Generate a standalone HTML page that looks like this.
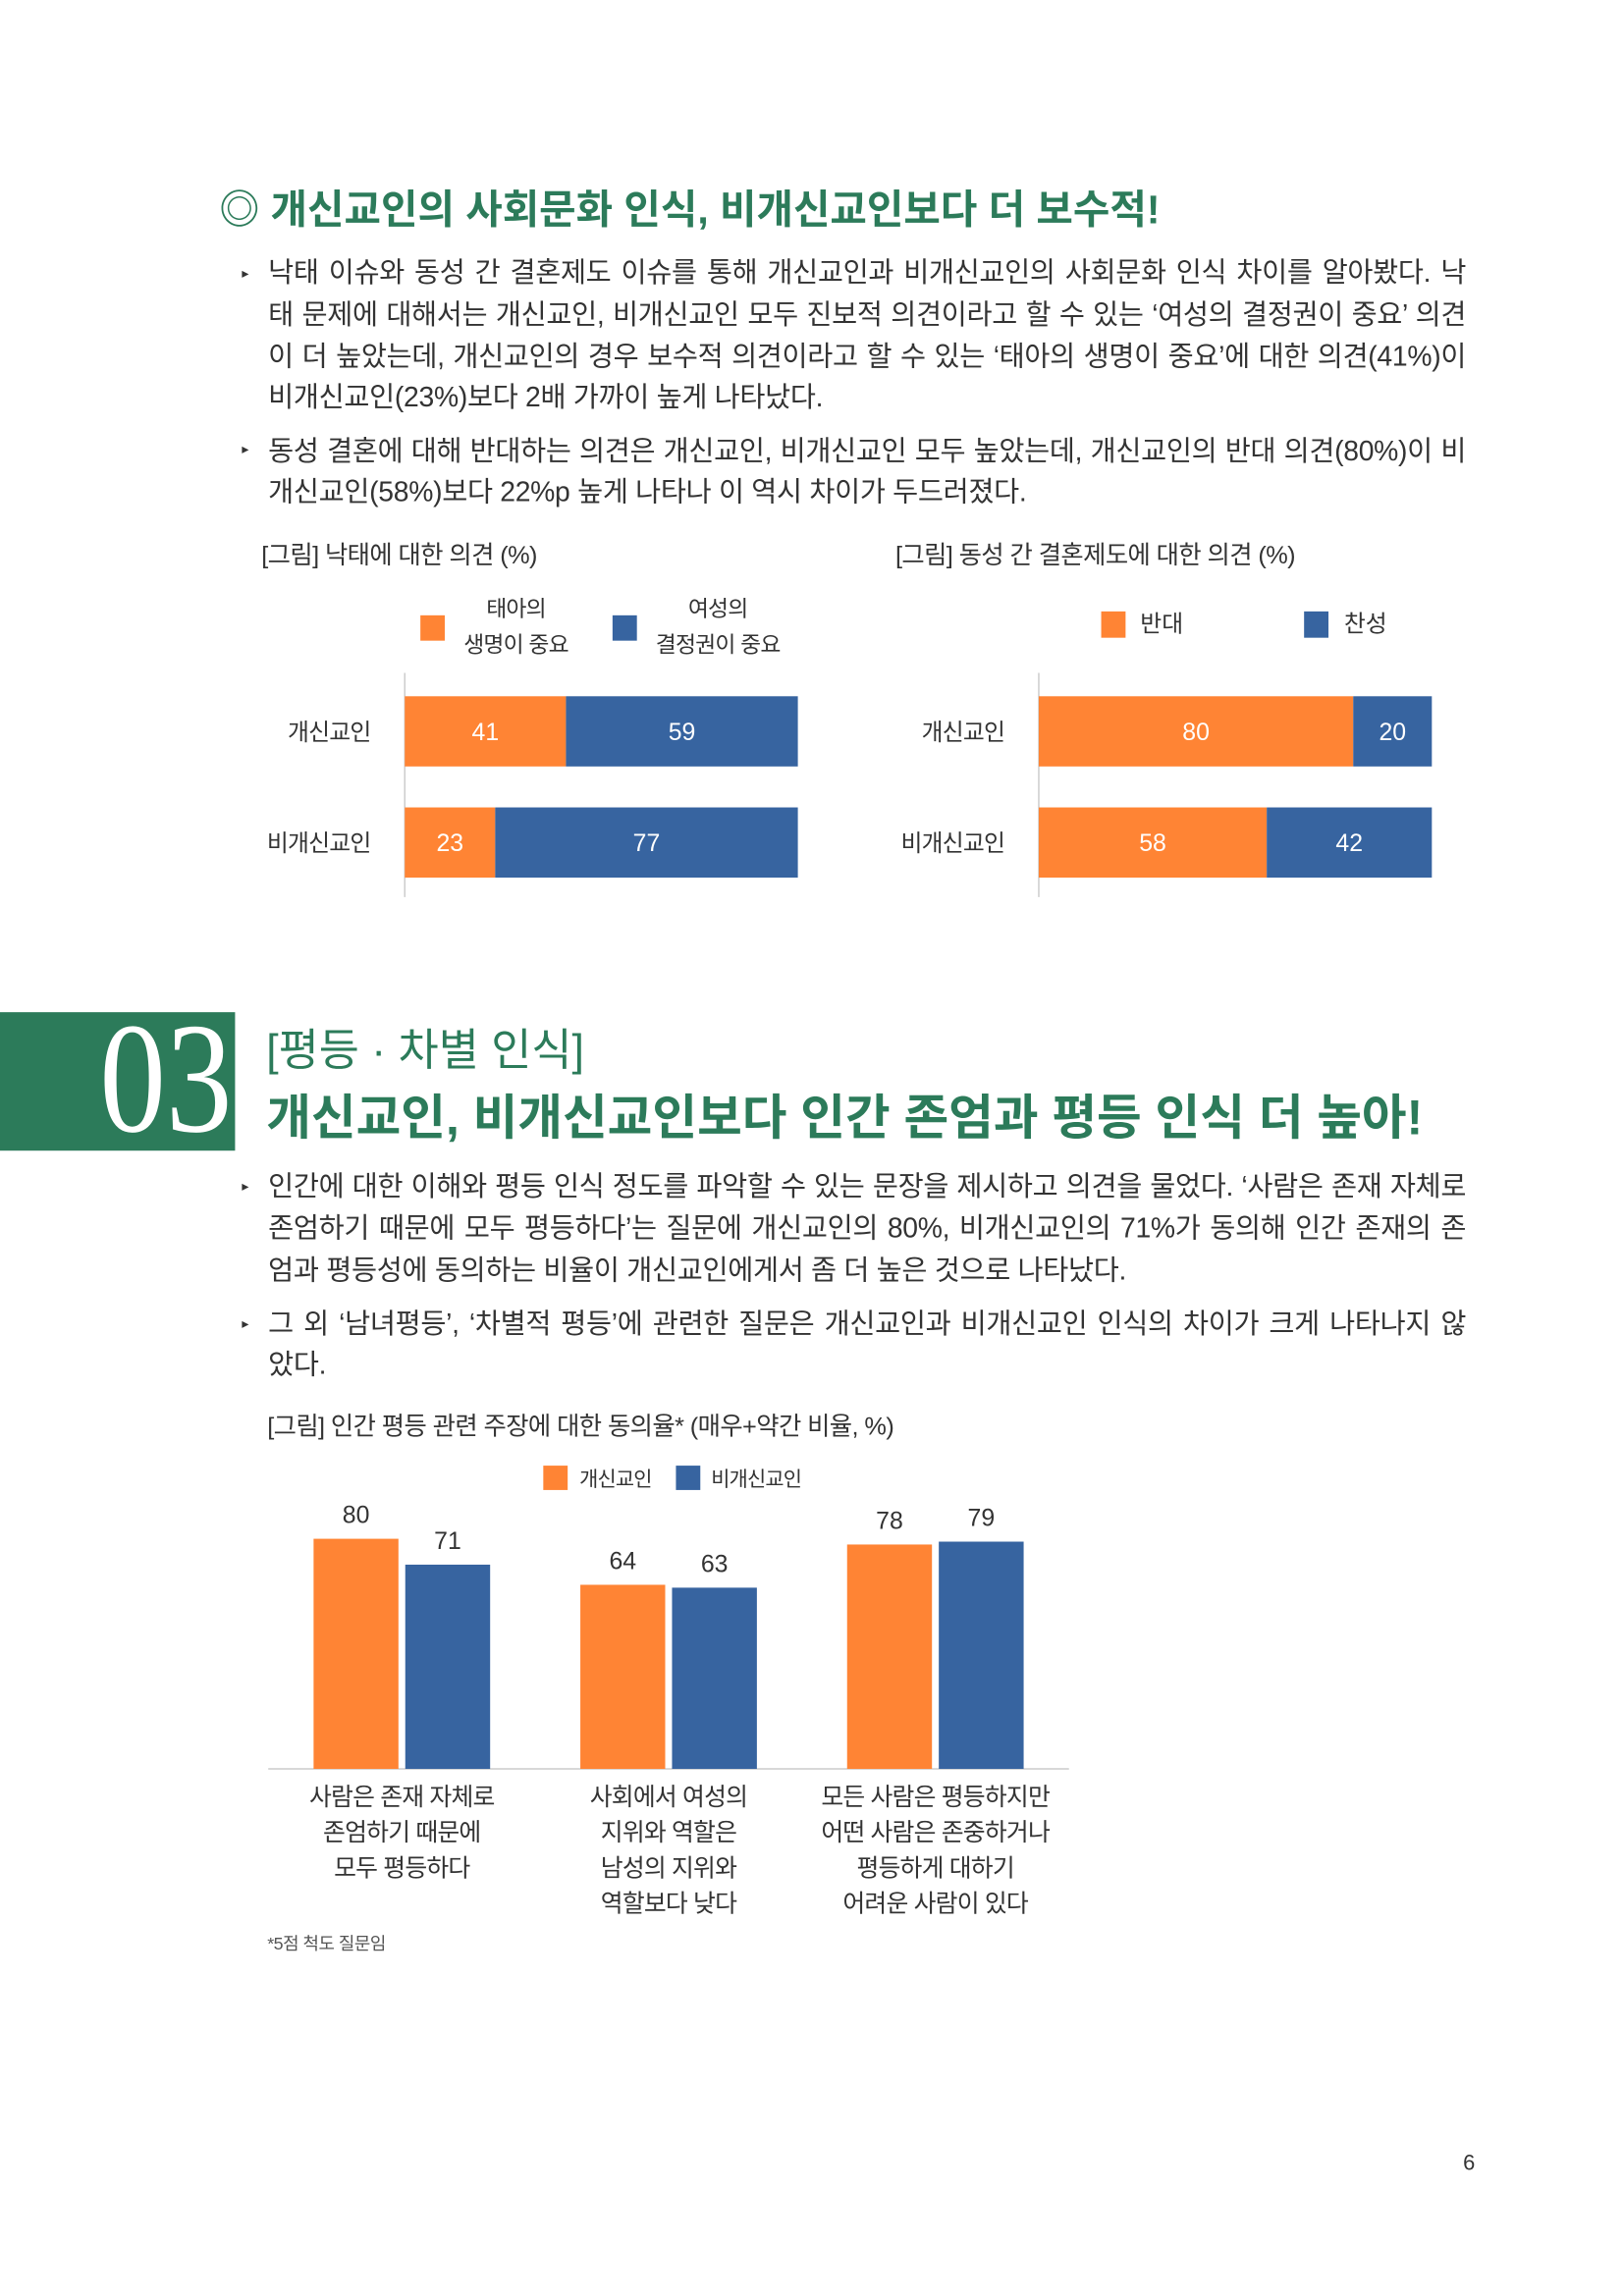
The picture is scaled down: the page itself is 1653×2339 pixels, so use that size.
<!DOCTYPE html>
<html><head><meta charset="utf-8">
<style>
body{margin:0;background:#fff;}
#page{position:relative;width:1653px;height:2339px;overflow:hidden;font-family:"Liberation Sans","Noto Sans CJK KR",sans-serif;color:#333;}
#inner{position:absolute;left:0;top:0;width:1664px;height:2355px;transform:scale(0.9934);transform-origin:0 0;}
.abs{position:absolute;white-space:nowrap;}
.ln{position:absolute;left:275px;width:1228px;font-size:28.5px;letter-spacing:-0.3px;white-space:nowrap;text-align:justify;text-align-last:justify;line-height:34px;}
.ln.last{text-align-last:left;}
.bul{position:absolute;left:248px;font-size:14px;color:#333;}
.cap{position:absolute;font-size:25.5px;letter-spacing:-0.6px;white-space:nowrap;color:#333;}
</style></head>
<body>
<div id="page"><div id="inner">
<div class="abs" style="left:225px;top:181px;font-size:41px;font-weight:bold;color:#2C7B5A;letter-spacing:0px;">◎ 개신교인의 사회문화 인식, 비개신교인보다 더 보수적!</div>

<div class="bul" style="top:272px">▸</div>
<div class="ln" style="top:263px">낙태 이슈와 동성 간 결혼제도 이슈를 통해 개신교인과 비개신교인의 사회문화 인식 차이를 알아봤다. 낙</div>
<div class="ln" style="top:306px">태 문제에 대해서는 개신교인, 비개신교인 모두 진보적 의견이라고 할 수 있는 ‘여성의 결정권이 중요’ 의견</div>
<div class="ln" style="top:349px">이 더 높았는데, 개신교인의 경우 보수적 의견이라고 할 수 있는 ‘태아의 생명이 중요’에 대한 의견(41%)이</div>
<div class="ln last" style="top:391px">비개신교인(23%)보다 2배 가까이 높게 나타났다.</div>
<div class="bul" style="top:452px">▸</div>
<div class="ln" style="top:446px">동성 결혼에 대해 반대하는 의견은 개신교인, 비개신교인 모두 높았는데, 개신교인의 반대 의견(80%)이 비</div>
<div class="ln last" style="top:488px">개신교인(58%)보다 22%p 높게 나타나 이 역시 차이가 두드러졌다.</div>

<div class="cap" style="left:268px;top:549px">[그림] 낙태에 대한 의견 (%)</div>
<div class="cap" style="left:918px;top:549px">[그림] 동성 간 결혼제도에 대한 의견 (%)</div>

<svg id="hcharts" class="abs" style="left:0;top:0" width="1653" height="1000"></svg>

<div class="abs" style="left:0;top:1038px;width:241px;height:142px;background:#2C7B5A;"></div>
<div class="abs" style="left:102px;top:1026px;font-family:'Liberation Serif',serif;font-size:162px;line-height:162px;color:#fff;transform:scaleX(0.84);transform-origin:left top;">03</div>
<div class="abs" style="left:273px;top:1040px;font-size:45px;color:#2C7B5A;letter-spacing:0px;">[평등 · 차별 인식]</div>
<div class="abs" style="left:273px;top:1106px;font-size:50px;font-weight:bold;color:#2C7B5A;letter-spacing:0px;">개신교인, 비개신교인보다 인간 존엄과 평등 인식 더 높아!</div>

<div class="bul" style="top:1208px">▸</div>
<div class="ln" style="top:1200px">인간에 대한 이해와 평등 인식 정도를 파악할 수 있는 문장을 제시하고 의견을 물었다. ‘사람은 존재 자체로</div>
<div class="ln" style="top:1243px">존엄하기 때문에 모두 평등하다’는 질문에 개신교인의 80%, 비개신교인의 71%가 동의해 인간 존재의 존</div>
<div class="ln last" style="top:1286px">엄과 평등성에 동의하는 비율이 개신교인에게서 좀 더 높은 것으로 나타났다.</div>
<div class="bul" style="top:1349px">▸</div>
<div class="ln" style="top:1341px">그 외 ‘남녀평등’, ‘차별적 평등’에 관련한 질문은 개신교인과 비개신교인 인식의 차이가 크게 나타나지 않</div>
<div class="ln last" style="top:1383px">았다.</div>

<div class="cap" style="left:274px;top:1442px">[그림] 인간 평등 관련 주장에 대한 동의율* (매우+약간 비율, %)</div>

<svg id="vchart" class="abs" style="left:0;top:1480px" width="1653" height="520"></svg>

<div class="abs" style="left:274px;top:1979px;font-size:18px;color:#555;letter-spacing:-0.5px;">*5점 척도 질문임</div>
<div class="abs" style="left:1500px;top:2205px;font-size:22px;color:#333;">6</div>
</div></div>

<script>
// Chart 1: abortion
const abortCats = ["개신교인", "비개신교인"];
const abortLife = [41, 23];
const abortChoice = [59, 77];
const abortLegend = ["태아의|생명이 중요", "여성의|결정권이 중요"];
// Chart 2: same-sex marriage
const marryCats = ["개신교인", "비개신교인"];
const marryOppose = [80, 58];
const marryFavor = [20, 42];
const marryLegend = ["반대", "찬성"];
// Chart 3: equality
const eqCats = [["사람은 존재 자체로","존엄하기 때문에","모두 평등하다"],["사회에서 여성의","지위와 역할은","남성의 지위와","역할보다 낮다"],["모든 사람은 평등하지만","어떤 사람은 존중하거나","평등하게 대하기","어려운 사람이 있다"]];
const eqProt = [80, 64, 78];
const eqNon = [71, 63, 79];
const eqLegend = ["개신교인", "비개신교인"];

const ORANGE = "#FF8434", BLUE = "#3764A0", NS = "http://www.w3.org/2000/svg";
function mk(svg, tag, attrs, text){
  const e = document.createElementNS(NS, tag);
  for (const k in attrs) e.setAttribute(k, attrs[k]);
  if (text !== undefined) e.textContent = text;
  svg.appendChild(e); return e;
}
const FONT = '"Liberation Sans","Noto Sans CJK KR",sans-serif';

function hchart(svg, x0, cats, a, b, nameA, nameB){
  const W = 403, rowsY = [714, 828], bh = 72;
  const xs = v => v / 100 * W;
  const ax = mk(svg, 'line', {x1:x0, y1:690, x2:x0, y2:920, stroke:'#ccc', 'stroke-width':1.5});
  
  
  cats.forEach((c, i) => {
    const y = rowsY[i];
    const r1 = mk(svg, 'rect', {x:x0, y:y, width:xs(a[i]), height:bh, fill:ORANGE});
    
    
    const r2 = mk(svg, 'rect', {x:x0 + xs(a[i]), y:y, width:xs(b[i]), height:bh, fill:BLUE});
    
    
    const t1 = mk(svg, 'text', {x:x0 + xs(a[i]) / 2, y:y + bh/2 + 9, 'text-anchor':'middle', fill:'#fff', 'font-size':25, 'font-family':FONT}, a[i]);
    
    
    const t2 = mk(svg, 'text', {x:x0 + xs(a[i]) + xs(b[i]) / 2, y:y + bh/2 + 9, 'text-anchor':'middle', fill:'#fff', 'font-size':25, 'font-family':FONT}, b[i]);
    
    
    const cl = mk(svg, 'text', {x:x0 - 35, y:y + bh/2 + 9, 'text-anchor':'end', fill:'#333', 'font-size':24, 'font-family':FONT, 'letter-spacing':'-0.8'}, c);
    
    
  });
}
const hs = document.getElementById('hcharts');
hchart(hs, 415, abortCats, abortLife, abortChoice, 'fetus-life', 'women-choice');
hchart(hs, 1065, marryCats, marryOppose, marryFavor, 'oppose', 'favor');

[[431, ORANGE, 529], [628, BLUE, 736]].forEach((p, i) => {
  const r = mk(hs, 'rect', {x:p[0], y:631, width:25, height:26, fill:p[1]});
  
  
  abortLegend[i].split('|').forEach((s, j) => {
    const t = mk(hs, 'text', {x:p[2], y:632 + j*37, 'text-anchor':'middle', fill:'#333', 'font-size':23, 'font-family':FONT, 'letter-spacing':'-0.8'}, s);
    
    
  });
});
[[1129, ORANGE, 1169], [1337, BLUE, 1378]].forEach((p, i) => {
  const r = mk(hs, 'rect', {x:p[0], y:627, width:25, height:27, fill:p[1]});
  
  
  const t = mk(hs, 'text', {x:p[2], y:648, fill:'#333', 'font-size':24, 'font-family':FONT}, marryLegend[i]);
  
  
});

const vs = document.getElementById('vchart');
const base = 1814 - 1480, perUnit = 2.95, bw = 87, gap = 7;
const centers = i => 412 + i * 273.5;
const ys = v => base - v * perUnit;
const bl = mk(vs, 'line', {x1:275, y1:base, x2:1096, y2:base, stroke:'#ccc', 'stroke-width':1.5});


eqCats.forEach((lines, i) => {
  const c = centers(i);
  [[eqProt[i], c - gap/2 - bw, ORANGE, 'bar-protestant'], [eqNon[i], c + gap/2, BLUE, 'bar-non-protestant']].forEach(d => {
    const r = mk(vs, 'rect', {x:d[1], y:ys(d[0]), width:bw, height:base - ys(d[0]), fill:d[2]});
    
    
    const t = mk(vs, 'text', {x:d[1] + bw/2, y:ys(d[0]) - 16, 'text-anchor':'middle', fill:'#333', 'font-size':25, 'font-family':FONT}, d[0]);
    
    
  });
  lines.forEach((s, j) => {
    const t = mk(vs, 'text', {x:c, y:371 + j*36.5, 'text-anchor':'middle', fill:'#333', 'font-size':25, 'font-family':FONT, 'letter-spacing':'-0.8'}, s);
    
    
  });
});
[[557, ORANGE, 594], [693, BLUE, 729]].forEach((p, i) => {
  const r = mk(vs, 'rect', {x:p[0], y:23, width:25, height:25, fill:p[1]});
  
  
  const t = mk(vs, 'text', {x:p[2], y:44, fill:'#333', 'font-size':21, 'font-family':FONT, 'letter-spacing':'-0.8'}, eqLegend[i]);
  
  
});
</script>
</body></html>
